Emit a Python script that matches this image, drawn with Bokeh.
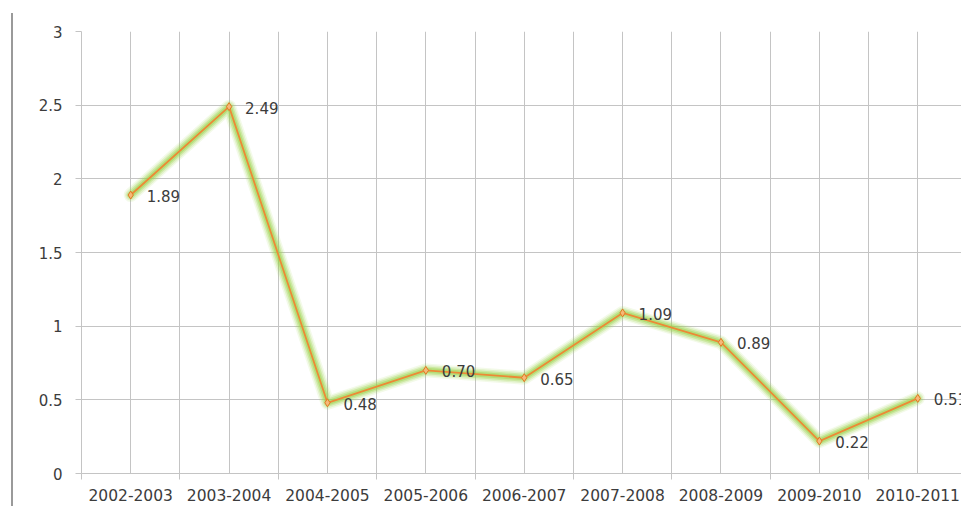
from bokeh.plotting import figure
from bokeh.models import Range1d, FixedTicker, ColumnDataSource
from bokeh.embed import file_html
from bokeh.resources import INLINE
from bokeh.core.properties import value

# Yearly series
years = ["2002-2003", "2003-2004", "2004-2005", "2005-2006", "2006-2007",
         "2007-2008", "2008-2009", "2009-2010", "2010-2011"]
values = [1.89, 2.49, 0.48, 0.70, 0.65, 1.09, 0.89, 0.22, 0.51]
value_labels = ["1.89", "2.49", "0.48", "0.70", "0.65", "1.09", "0.89", "0.22", "0.51"]
y_ticks = [0, 0.5, 1, 1.5, 2, 2.5, 3]

# each category occupies one unit; points sit at the middle of their slot
centers = [i + 0.5 for i in range(len(years))]
bounds = list(range(len(years) + 1))

source = ColumnDataSource(dict(x=centers, y=values, label=value_labels))

FONT = "DejaVu Sans"
TEXT = "#3c3c3c"
GRID = "#c4c4c4"

p = figure(
    width=950, height=493,
    x_range=Range1d(0, 8.965), y_range=Range1d(0, 3),
    output_backend="svg", toolbar_location=None,
    min_border_left=68, min_border_top=18, min_border_bottom=33, min_border_right=0,
)
p.margin = (13, 0, 0, 11)
p.styles = {"border-left": "2px solid #9a9a9a"}
p.outline_line_color = None
p.background_fill_color = "white"
p.border_fill_color = "white"

# x axis: labels under slot centres, tick marks on slot boundaries
xt = FixedTicker(ticks=centers, minor_ticks=bounds)
p.xaxis.ticker = xt
p.xaxis.major_label_overrides = {c: y for c, y in zip(centers, years)}
p.xaxis.major_tick_line_color = None
p.xaxis.minor_tick_line_color = GRID
p.xaxis.minor_tick_in = 0
p.xaxis.minor_tick_out = 6
p.xaxis.axis_line_color = GRID
p.xaxis.major_label_standoff = 9
p.xaxis.major_label_text_font = FONT
p.xaxis.major_label_text_font_size = "15.5px"
p.xaxis.major_label_text_color = TEXT

p.yaxis.ticker = FixedTicker(ticks=y_ticks)
p.yaxis.major_label_overrides = {0: "0", 1: "1", 2: "2", 3: "3"}
p.yaxis.axis_line_color = GRID
p.yaxis.major_tick_line_color = GRID
p.yaxis.major_tick_in = 0
p.yaxis.major_tick_out = 6
p.yaxis.minor_tick_line_color = None
p.yaxis.major_label_standoff = 13
p.yaxis.major_label_text_font = FONT
p.yaxis.major_label_text_font_size = "15px"
p.yaxis.major_label_text_color = TEXT

p.xgrid.ticker = xt
p.xgrid.grid_line_color = GRID
p.xgrid.minor_grid_line_color = GRID
p.ygrid.grid_line_color = GRID

# soft green halo under the line
for w, a in [(14, 0.12), (11, 0.2), (8, 0.32), (5, 0.45)]:
    p.line("x", "y", source=source, line_width=w, line_color="#9ad24a",
           line_alpha=a, line_join="round", line_cap="round")
p.line("x", "y", source=source, line_width=1.8, line_color="#ec8a36", line_join="round")
p.scatter("x", "y", source=source, marker="diamond", size=8,
          fill_color="#f6b878", line_color="#e07a20", line_width=1)

p.text("x", "y", text="label", source=source, x_offset=16, y_offset=1,
       text_font=value(FONT), text_font_size="15px", text_color=TEXT,
       text_baseline="middle", text_align="left")

open("out.html", "w").write(file_html(p, INLINE))
